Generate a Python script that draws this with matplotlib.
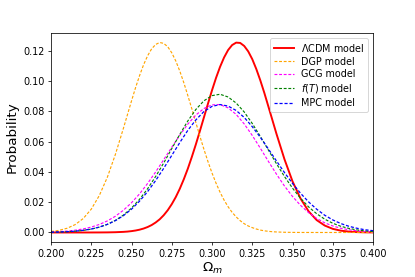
import numpy as np
import matplotlib
matplotlib.use("Agg")
import matplotlib.pyplot as plt

# Omega_m grid shared by all curves
omega_m = np.round(np.arange(0.200, 0.4001, 0.005), 3)
# extra points between grid values where the narrow peaks bend sharply
omega_mid = np.round(np.arange(0.2475, 0.3376, 0.005), 4)

# probability values, one per grid point
p_lcdm = [0.0, 0.0, 0.0, 0.0, 0.0, 0.00001, 0.00003, 0.00007, 0.00018, 0.00041,
          0.0009, 0.00185, 0.0036, 0.0066, 0.0114, 0.0187, 0.0289, 0.0422, 0.0583, 0.0761,
          0.0939, 0.1094, 0.1205, 0.1254, 0.1232, 0.1145, 0.1005, 0.0833, 0.0653, 0.0484,
          0.0338, 0.0224, 0.0140, 0.0082, 0.0046, 0.0024, 0.0012, 0.00057, 0.00025, 0.00011,
          0.00004]
p_lcdm_mid = [0.0006, 0.0013, 0.0026, 0.0049, 0.0087, 0.0147, 0.0234, 0.0352, 0.0500, 0.0671,
              0.0851, 0.1021, 0.1156, 0.1238, 0.1252, 0.1196, 0.1080, 0.0922, 0.0743]
p_dgp = [0.00066, 0.0014, 0.0028, 0.0052, 0.0092, 0.0154, 0.0244, 0.0365, 0.0516, 0.0689,
         0.0869, 0.1036, 0.1167, 0.1242, 0.1249, 0.1187, 0.1066, 0.0904, 0.0725, 0.0549,
         0.0393, 0.0266, 0.0170, 0.0103, 0.0058, 0.0032, 0.0016, 0.00077, 0.00035, 0.00015,
         0.00006, 0.00002, 0.00001, 0.0, 0.0, 0.0, 0.0, 0.0, 0.0, 0.0,
         0.0]
p_dgp_mid = [0.0779, 0.0956, 0.1108, 0.1213, 0.1255, 0.1227, 0.1133, 0.0989, 0.0816, 0.0635,
             0.0468, 0.0326, 0.0214, 0.0133, 0.0078, 0.0043, 0.0023, 0.0011, 0.0005]
p_gcg = [0.00034, 0.00057, 0.00094, 0.00151, 0.00235, 0.00357, 0.00529, 0.00764, 0.01074, 0.01472,
         0.01964, 0.0255, 0.0324, 0.0400, 0.0481, 0.0563, 0.0643, 0.0716, 0.0776, 0.0819,
         0.0843, 0.0845, 0.0823, 0.0780, 0.0717, 0.0641, 0.0557, 0.0470, 0.0386, 0.0307,
         0.0238, 0.0179, 0.0131, 0.0093, 0.0064, 0.0043, 0.0028, 0.0018, 0.0011, 0.00065,
         0.00038]
p_ft = [0.00015, 0.00027, 0.00048, 0.00082, 0.00138, 0.00223, 0.00352, 0.00538, 0.0080, 0.01152,
        0.01612, 0.0219, 0.0289, 0.0370, 0.0459, 0.0554, 0.0648, 0.0737, 0.0813, 0.0870,
        0.0904, 0.0913, 0.0895, 0.0855, 0.0796, 0.0720, 0.0635, 0.0545, 0.0455, 0.0370,
        0.0293, 0.0226, 0.0169, 0.0124, 0.0088, 0.0061, 0.0041, 0.0027, 0.0017, 0.00107,
        0.00064]
p_mpc = [0.00017, 0.0003, 0.00052, 0.00088, 0.00145, 0.0023, 0.00356, 0.00535, 0.00783, 0.01113,
         0.01539, 0.0207, 0.0270, 0.0343, 0.0424, 0.0509, 0.0594, 0.0675, 0.0744, 0.0799,
         0.0833, 0.0845, 0.0835, 0.0806, 0.0760, 0.0699, 0.0629, 0.0552, 0.0473, 0.0396,
         0.0324, 0.0259, 0.0202, 0.0154, 0.0114, 0.0083, 0.0059, 0.0041, 0.0028, 0.0018,
         0.0012]


def merged(main, mid):
    # put the coarse grid and the in-between points in x order
    x = np.concatenate([omega_m, omega_mid])
    y = np.concatenate([main, mid])
    order = np.argsort(x)
    return x[order], y[order]


fig = plt.figure(figsize=(6, 4.005), dpi=415 / 6)
ax = fig.add_axes([0.1229, 0.1264, 0.7759, 0.7545])

x_l, y_l = merged(p_lcdm, p_lcdm_mid)
x_d, y_d = merged(p_dgp, p_dgp_mid)

fine = (2.5, 1.5)
ax.plot(x_l, y_l, color='red', lw=2, label=r'$\Lambda$CDM model')
ax.plot(x_d, y_d, color='orange', lw=1.2, dashes=fine, label='DGP model')
ax.plot(omega_m, p_gcg, color='magenta', lw=1.2, dashes=fine, label='GCG model')
ax.plot(omega_m, p_ft, color='green', lw=1.2, dashes=fine, label=r'$f(T)$ model')
ax.plot(omega_m, p_mpc, color='blue', lw=1.3, dashes=fine, label='MPC model')

ax.set_xlim(0.2, 0.4)
ax.set_xlabel(r'$\Omega_m$', fontsize=14, labelpad=2)
ax.set_ylabel('Probability', fontsize=14)
ax.legend(loc='upper right', fontsize=10, labelspacing=0.3)

fig.savefig('out.png', dpi=415 / 6)
